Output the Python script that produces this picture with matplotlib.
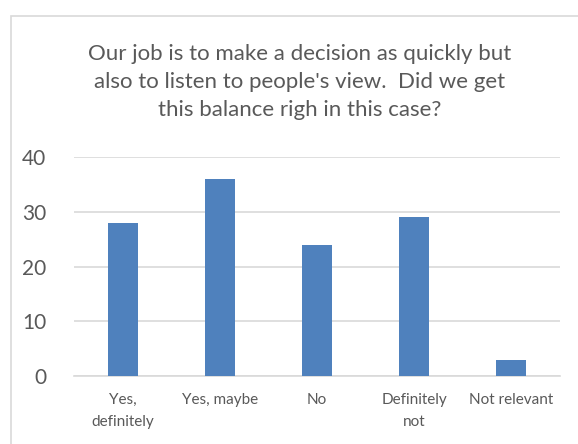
import matplotlib
matplotlib.use("Agg")
import matplotlib.pyplot as plt
from matplotlib.patches import Rectangle

categories = ["Yes,\ndefinitely", "Yes, maybe", "No", "Definitely\nnot", "Not relevant"]
values = [28, 36, 24, 29, 3]
yticks = [0, 10, 20, 30, 40]
title = "Our job is to make a decision as quickly but\nalso to listen to people's view.  Did we get\nthis balance righ in this case?"

plt.rcParams['font.family'] = ['Lato', 'DejaVu Sans']
txt = "#595959"

fig = plt.figure(figsize=(5.78, 4.44), dpi=100)
ax = fig.add_axes([74/578, 1-376/444, (560-74)/578, (376-157)/444])
x = list(range(len(categories)))
ax.bar(x, values, width=0.31, color="#4F81BD", zorder=3)
ax.set_xlim(-0.5, len(categories)-0.5)
ax.set_ylim(0, 40)
ax.set_yticks(yticks)
ax.set_yticklabels([str(v) for v in yticks], fontsize=15, color=txt)
ax.tick_params(axis='both', length=0)
ax.set_xticks(x)
ax.set_xticklabels(categories, fontsize=11, color=txt, linespacing=1.75)
ax.tick_params(axis='y', pad=20)
ax.tick_params(axis='x', pad=12)
ax.grid(axis='y', color="#D9D9D9", linewidth=1.2, zorder=0)
for s in ["top", "right", "left"]:
    ax.spines[s].set_visible(False)
ax.spines["bottom"].set_color("#D9D9D9")
ax.spines["bottom"].set_linewidth(1.2)

fig.text(300/578, 1-82/444, title, ha='center', va='center', fontsize=16,
         color=txt, linespacing=1.5)
fig.patches.append(Rectangle((10.5/578, -0.1), 600/578, 1.1 - 16/444,
                             transform=fig.transFigure, fill=False,
                             edgecolor="#D9D9D9", linewidth=1.2))
fig.savefig("out.png", dpi=100)
